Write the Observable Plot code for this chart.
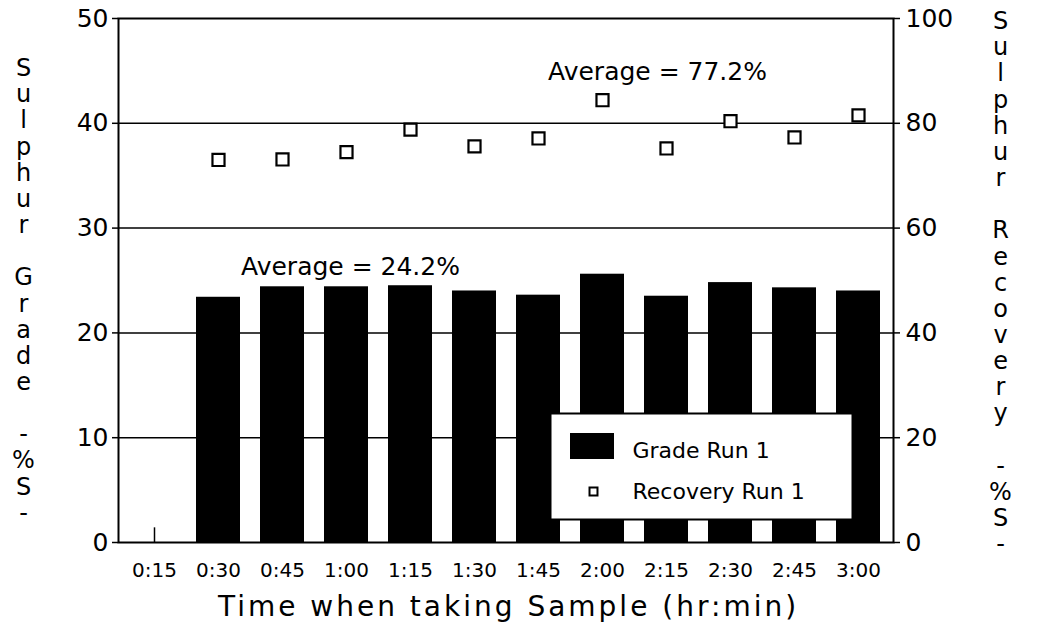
<!DOCTYPE html>
<html><head><meta charset="utf-8">
<script src="https://cdn.jsdelivr.net/npm/d3@7"></script>
<script src="https://cdn.jsdelivr.net/npm/@observablehq/plot@0.6"></script>
<style>body{margin:0;background:#fff}</style>
</head><body><div id="chart"></div>
<script>
const times = ["0:15","0:30","0:45","1:00","1:15","1:30","1:45","2:00","2:15","2:30","2:45","3:00"];
const grade = [null, 23.4, 24.4, 24.4, 24.5, 24.0, 23.6, 25.6, 23.5, 24.8, 24.3, 24.0];
const recovery = [null, 73.0, 73.1, 74.5, 78.8, 75.6, 77.1, 84.4, 75.2, 80.4, 77.3, 81.5];
const avgGrade = 24.2;
const avgRecovery = 77.2;
const leftTicks = [0, 10, 20, 30, 40, 50];
const rightTicks = [0, 20, 40, 60, 80, 100];
const gridValues = [10, 20, 30, 40];
const seriesNames = ["Grade Run 1", "Recovery Run 1"];
const leftTitle = "Sulphur Grade -%S-";
const rightTitle = "Sulphur Recovery -%S-";
const xTitle = "Time when taking Sample (hr:min)";

const rows = times.map((t, i) => ({time: t, grade: grade[i], recovery: recovery[i]}));
const stack = s => s.split("").join("\n");
const font = "DejaVu Sans";

const chart = Plot.plot({
  width: 1048, height: 630,
  marginLeft: 118, marginRight: 155, marginTop: 18, marginBottom: 88,
  style: {fontFamily: font, background: "white", color: "black", overflow: "visible"},
  x: {type: "band", domain: times, range: [115, 896], paddingInner: 0.32, paddingOuter: 0.2},
  y: {domain: [0, 50]},
  marks: [
    Plot.ruleY(gridValues, {stroke: "black", strokeWidth: 1.5}),
    Plot.ruleX(times, {x: d => d, y1: 0, y2: 1.4, stroke: "black", strokeWidth: 1.5}),
    Plot.barY(rows.filter(d => d.grade != null), {x: "time", y: "grade", fill: "black"}),
    Plot.dot(rows.filter(d => d.recovery != null), {x: "time", y: d => d.recovery / 2, symbol: "square", r: 6.8, stroke: "black", fill: "white", strokeWidth: 2.2}),
    Plot.frame({stroke: "black", strokeWidth: 2}),
    Plot.axisY(leftTicks, {anchor: "left", tickSize: 6, tickPadding: 4, fontSize: 25, label: null, strokeWidth: 1.5}),
    Plot.axisY(rightTicks, {anchor: "right", y: d => d / 2, tickSize: 6, tickPadding: 6, fontSize: 25, label: null, strokeWidth: 1.5, tickFormat: d => String(d)}),
    Plot.axisX({tickSize: 0, tickPadding: 20, fontSize: 20, label: null}),
    Plot.text([`Average = ${avgGrade}%`], {x: () => "1:00", y: () => avgGrade + 2.1, dx: 4, fontSize: 25}),
    Plot.text([`Average = ${avgRecovery}%`], {x: () => "2:15", y: () => (avgRecovery + 12.5) / 2, dx: -9, fontSize: 25}),
    // legend
    Plot.frame({fill: "white", stroke: "black", strokeWidth: 2, insetLeft: 432, insetRight: 41, insetTop: 395, insetBottom: 23}),
    Plot.frame({fill: "black", stroke: "black", insetLeft: 452, insetRight: 280, insetTop: 415, insetBottom: 84}),
    Plot.dot([seriesNames[1]], {frameAnchor: "top-left", dx: 475, dy: 473, symbol: "square", r: 4.5, stroke: "black", fill: "white", strokeWidth: 2}),
    Plot.text([seriesNames[0]], {frameAnchor: "top-left", dx: 514, dy: 432, textAnchor: "start", lineAnchor: "middle", fontSize: 22}),
    Plot.text([seriesNames[1]], {frameAnchor: "top-left", dx: 514, dy: 473, textAnchor: "start", lineAnchor: "middle", fontSize: 22}),
    // titles
    Plot.text([stack(leftTitle)], {frameAnchor: "top-left", dx: -95, dy: 39, lineAnchor: "top", lineHeight: 1.09, fontSize: 24, textAnchor: "middle"}),
    Plot.text([stack(rightTitle)], {frameAnchor: "top-right", dx: 107, dy: -8, lineAnchor: "top", lineHeight: 1.09, fontSize: 24, textAnchor: "middle"}),
    Plot.text([xTitle], {frameAnchor: "bottom", dx: 2.5, dy: 65, lineAnchor: "middle", fontSize: 28})
  ]
});
d3.select(chart).selectAll("text").filter(function() { return this.textContent === xTitle; }).attr("letter-spacing", 3);
document.getElementById("chart").appendChild(chart);
</script>
</body></html>
